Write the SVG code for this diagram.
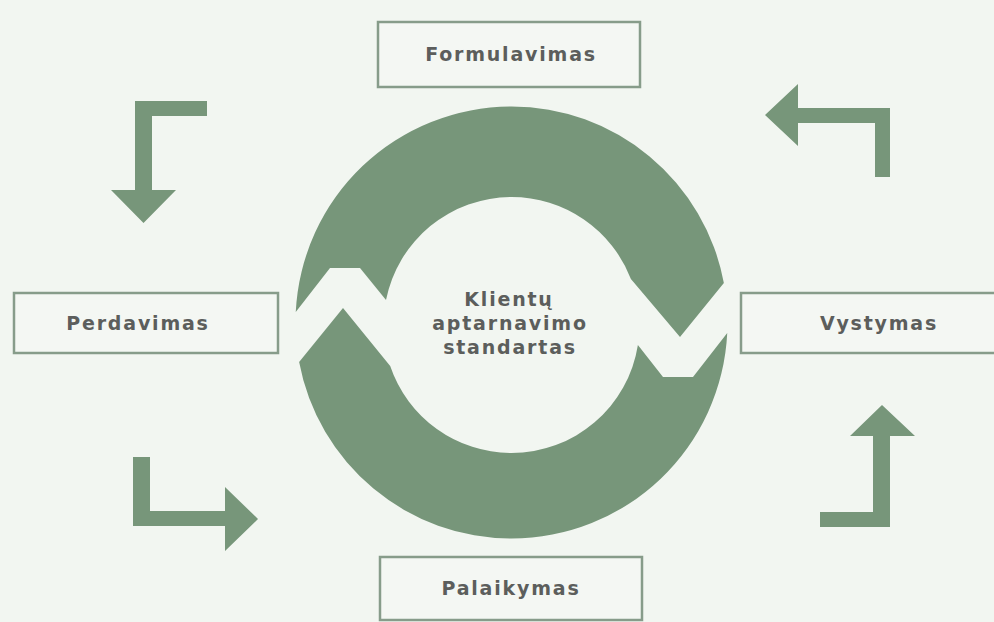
<svg xmlns="http://www.w3.org/2000/svg" width="994" height="622" viewBox="0 0 994 622">
  <style>
    .bg { fill: #f2f6f1; }
    .shape { fill: #77967a; }
    .box { fill: #f4f7f3; stroke: #879c8a; stroke-width: 2.5; }
    .label { font-family: "DejaVu Sans", Verdana, sans-serif; font-weight: bold; font-size: 19px; letter-spacing: 1.8px; fill: #5c5e5c; text-anchor: middle; }
  </style>

  <rect class="bg" x="0" y="0" width="994" height="622"/>

  <!-- central cycle: two arcs chasing each other (outer r 216, inner r 128) -->
  <g id="cycle">
    <path class="shape" d="M 295.76,312 A 216 216 0 0 1 511.5,106.5 A 216 216 0 0 1 723.86,283 L 680,337 L 630.9,279 A 128 128 0 0 0 511.5,197 A 128 128 0 0 0 386,300 L 360,268 L 330,268 Z"/>
    <path class="shape" d="M 727.24,333 A 216 216 0 0 1 511.5,538.5 A 216 216 0 0 1 299.14,362 L 343,308 L 390.2,366 A 128 128 0 0 0 511.5,453 A 128 128 0 0 0 637.9,345 L 663,377 L 693,377 Z"/>
    <text class="label" x="509" y="306">Klientų</text>
    <text class="label" x="510" y="330">aptarnavimo</text>
    <text class="label" x="510" y="354">standartas</text>
  </g>

  <!-- stage boxes -->
  <g id="formulavimas">
    <rect class="box" x="378" y="22" width="262" height="65"/>
    <text class="label" x="511" y="61">Formulavimas</text>
  </g>
  <g id="perdavimas">
    <rect class="box" x="14" y="293" width="264" height="60"/>
    <text class="label" x="138" y="330">Perdavimas</text>
  </g>
  <g id="vystymas">
    <rect class="box" x="741" y="293" width="270" height="60"/>
    <text class="label" x="879" y="330">Vystymas</text>
  </g>
  <g id="palaikymas">
    <rect class="box" x="380" y="557" width="262" height="63"/>
    <text class="label" x="511" y="595">Palaikymas</text>
  </g>

  <!-- bent arrows between the stages -->
  <g id="connectors">
    <polygon class="shape" points="207,101 135,101 135,190 111,190 143.5,223 176,190 152,190 152,116 207,116"/>
    <polygon class="shape" points="890,177 890,108 798,108 798,84 765,115 798,146 798,123 875,123 875,177"/>
    <polygon class="shape" points="133,457 150,457 150,511 225,511 225,487 258,519 225,551 225,526 133,526"/>
    <polygon class="shape" points="820,512 873,512 873,436 850,436 882,405 915,436 890,436 890,527 820,527"/>
  </g>
</svg>
